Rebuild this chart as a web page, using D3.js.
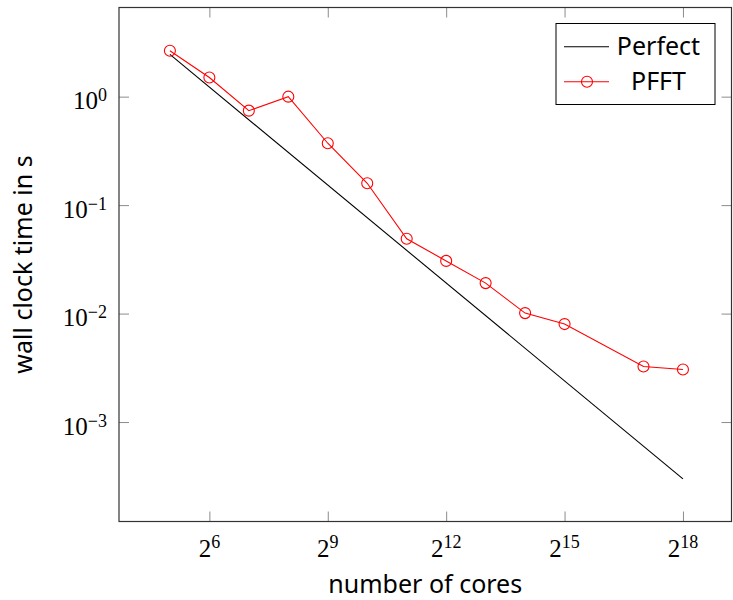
<!DOCTYPE html>
<html>
<head>
<meta charset="utf-8">
<script src="https://cdn.jsdelivr.net/npm/d3@7"></script>
<style>
  body { margin: 0; background: #fff; }
  .tickLabel { font-family: "Liberation Serif", serif; font-size: 25px; fill: #000; }
  .axisTitle, .legendText { font-family: "Noto Sans", sans-serif; font-size: 25px; fill: #000; }
</style>
</head>
<body>
<div class="container"></div>
<script>
(function () {

    //data
    var cores = [32, 64, 128, 256, 512, 1024, 2048, 4096, 8192, 16384, 32768, 131072, 262144];
    var pfftTime = [2.65, 1.50, 0.743, 1.0, 0.372, 0.159, 0.0489, 0.0306, 0.0191, 0.0101, 0.0080, 0.00325, 0.00305];
    var perfectCores = [32, 262144];
    var perfectTime = [2.45, 0.000299];
    var xTickExp = [6, 9, 12, 15, 18];
    var yTickExp = [0, -1, -2, -3];
    var seriesNames = ["Perfect", "PFFT"];

    var width = 733, height = 600;
    var plot = { left: 119, right: 731.5, top: 7.5, bottom: 521.5 };

    var svg = d3.select(".container")
        .append("svg")
        .attr("width", width)
        .attr("height", height);

    //log scales, limits padded like pgfplots does
    var x = d3.scaleLog().base(2)
        .domain([Math.pow(2, 3.71), Math.pow(2, 19.23)])
        .range([plot.left, plot.right]);

    var y = d3.scaleLog().base(10)
        .domain([Math.pow(10, -3.917), Math.pow(10, 0.822)])
        .range([plot.bottom, plot.top]);

    var xTicks = xTickExp.map(function (e) { return Math.pow(2, e); });
    var yTicks = yTickExp.map(function (e) { return Math.pow(10, e); });
    var tickLen = 10;

    //ticks on all four sides, pointing inward
    function addAxis(axis, tx, ty) {
        var g = svg.append("g")
            .attr("transform", "translate(" + tx + "," + ty + ")")
            .call(axis);
        g.select(".domain").remove();
        g.selectAll(".tick line").attr("stroke", "#8c8c8c").attr("stroke-width", 1);
        g.selectAll(".tick text").remove();
    }
    addAxis(d3.axisBottom(x).tickValues(xTicks).tickSize(-tickLen), 0, plot.bottom);
    addAxis(d3.axisTop(x).tickValues(xTicks).tickSize(-tickLen), 0, plot.top);
    addAxis(d3.axisLeft(y).tickValues(yTicks).tickSize(-tickLen), plot.left, 0);
    addAxis(d3.axisRight(y).tickValues(yTicks).tickSize(-tickLen), plot.right, 0);

    //tick labels with superscripts
    var xl = svg.selectAll(".xLabel")
        .data(xTickExp)
        .enter()
        .append("text")
        .attr("class", "tickLabel")
        .attr("text-anchor", "middle")
        .attr("x", function (d) { return x(Math.pow(2, d)); })
        .attr("y", 556.5);
    xl.append("tspan").text("2");
    xl.append("tspan").attr("font-size", "18px").attr("dy", -9).text(function (d) { return d; });

    var yl = svg.selectAll(".yLabel")
        .data(yTickExp)
        .enter()
        .append("text")
        .attr("class", "tickLabel")
        .attr("text-anchor", "end")
        .attr("x", 107)
        .attr("y", function (d) { return y(Math.pow(10, d)) + 12.5; });
    yl.append("tspan").text("10");
    yl.append("tspan").attr("font-size", "18px").attr("dy", -8)
        .text(function (d) { return d < 0 ? "\u2212" + (-d) : d; });

    //lines
    var line = d3.line()
        .x(function (d) { return x(d[0]); })
        .y(function (d) { return y(d[1]); });

    var perfectData = d3.zip(perfectCores, perfectTime);
    var pfftData = d3.zip(cores, pfftTime);

    svg.append("path")
        .datum(perfectData)
        .attr("d", line)
        .attr("fill", "none")
        .attr("stroke", "#000")
        .attr("stroke-width", 1.1);

    svg.append("path")
        .datum(pfftData)
        .attr("d", line)
        .attr("fill", "none")
        .attr("stroke", "#ff0000")
        .attr("stroke-width", 1.1);

    svg.selectAll(".marker")
        .data(pfftData)
        .enter()
        .append("circle")
        .attr("class", "marker")
        .attr("cx", function (d) { return x(d[0]); })
        .attr("cy", function (d) { return y(d[1]); })
        .attr("r", 5.5)
        .attr("fill", "none")
        .attr("stroke", "#ff0000")
        .attr("stroke-width", 1.1);

    //frame
    svg.append("rect")
        .attr("x", plot.left)
        .attr("y", plot.top)
        .attr("width", plot.right - plot.left)
        .attr("height", plot.bottom - plot.top)
        .attr("fill", "none")
        .attr("stroke", "#333")
        .attr("stroke-width", 1.2);

    //axis titles
    svg.append("text")
        .attr("class", "axisTitle")
        .attr("text-anchor", "middle")
        .attr("x", (plot.left + plot.right) / 2)
        .attr("y", 593)
        .text("number of cores");

    svg.append("text")
        .attr("class", "axisTitle")
        .attr("text-anchor", "middle")
        .attr("transform", "translate(32," + (plot.top + plot.bottom) / 2 + ") rotate(-90)")
        .text("wall clock time in s");

    //legend
    var legend = svg.append("g");
    legend.append("rect")
        .attr("x", 556)
        .attr("y", 23.5)
        .attr("width", 159)
        .attr("height", 81)
        .attr("fill", "#fff")
        .attr("stroke", "#000")
        .attr("stroke-width", 1);

    var rows = [46.7, 81.7];
    seriesNames.forEach(function (name, i) {
        var color = i === 0 ? "#000" : "#ff0000";
        legend.append("line")
            .attr("x1", 564).attr("x2", 609)
            .attr("y1", rows[i]).attr("y2", rows[i])
            .attr("stroke", color)
            .attr("stroke-width", 1.1);
        if (i === 1) {
            legend.append("circle")
                .attr("cx", 587).attr("cy", rows[i])
                .attr("r", 5.5)
                .attr("fill", "none")
                .attr("stroke", color)
                .attr("stroke-width", 1.1);
        }
        legend.append("text")
            .attr("class", "legendText")
            .attr("text-anchor", "middle")
            .attr("x", 658.5)
            .attr("y", rows[i] + 8.5)
            .text(name);
    });

})();
</script>
</body>
</html>
